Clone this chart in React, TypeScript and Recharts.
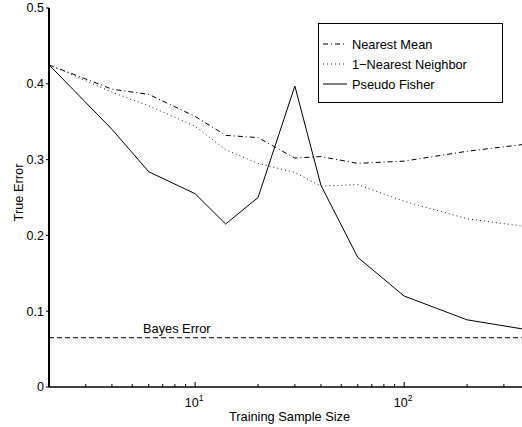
import { LineChart, Line, XAxis, YAxis, ReferenceLine, Legend } from "recharts";

const sizes = [2, 4, 6, 10, 14, 20, 30, 40, 60, 100, 200, 400];
const nearestMean = [0.425, 0.393, 0.386, 0.357, 0.332, 0.329, 0.302, 0.304, 0.295, 0.298, 0.311, 0.321];
const nearestNeighbor = [0.425, 0.389, 0.371, 0.344, 0.313, 0.295, 0.283, 0.265, 0.267, 0.245, 0.222, 0.211];
const pseudoFisher = [0.425, 0.34, 0.284, 0.255, 0.215, 0.25, 0.397, 0.266, 0.171, 0.12, 0.0886, 0.075];
const bayesError = 0.065;

const xTicks = [2, 3, 4, 5, 6, 7, 8, 9, 10, 20, 30, 40, 50, 60, 70, 80, 90, 100, 200, 300, 400];
const majorTicks = [10, 100];
const yTicks = [0, 0.1, 0.2, 0.3, 0.4, 0.5];

const data = sizes.map((size, i) => ({
  size,
  nearestMean: nearestMean[i],
  nearestNeighbor: nearestNeighbor[i],
  pseudoFisher: pseudoFisher[i],
}));

const series = [
  { key: "nearestMean", name: "Nearest Mean", dash: "5 3 1 3", color: "#000" },
  { key: "nearestNeighbor", name: "1\u2212Nearest Neighbor", dash: "1 3", color: "#222" },
  { key: "pseudoFisher", name: "Pseudo Fisher", dash: undefined, color: "#000" },
];

const font = "'Liberation Sans', Arial, Helvetica, sans-serif";

const BottomTick = (props: any) => {
  const { x, y, payload } = props;
  const v = payload.value;
  const major = majorTicks.includes(v);
  return (
    <g>
      <line x1={x} x2={x} y1={y} y2={y - (major ? 5 : 3)} stroke="#000" strokeWidth={1} />
      {major && (
        <text x={x - 1} y={y + 20} textAnchor="middle" fontSize={12.5} fontFamily={font} fill="#000">
          10
          <tspan dy={-6} fontSize={8.5}>
            {Math.round(Math.log10(v))}
          </tspan>
        </text>
      )}
    </g>
  );
};

const TopTick = (props: any) => {
  const { x, y, payload } = props;
  const major = majorTicks.includes(payload.value);
  return <line x1={x} x2={x} y1={y} y2={y + (major ? 5 : 3)} stroke="#000" strokeWidth={1} />;
};

const XTitle = ({ viewBox }: any) => (
  <text
    x={viewBox.x + viewBox.width / 2}
    y={viewBox.y + 34}
    textAnchor="middle"
    fontSize={12.8}
    fontFamily={font}
    fill="#000"
  >
    Training Sample Size
  </text>
);

const YTitle = ({ viewBox }: any) => {
  const cx = viewBox.x + 18;
  const cy = viewBox.y + viewBox.height / 2 - 5;
  return (
    <text
      x={cx}
      y={cy}
      transform={`rotate(-90, ${cx}, ${cy})`}
      textAnchor="middle"
      dominantBaseline="central"
      fontSize={12.8}
      fontFamily={font}
      fill="#000"
    >
      True Error
    </text>
  );
};

const BayesLabel = ({ viewBox }: any) => (
  <text x={viewBox.x + 94} y={viewBox.y - 5} fontSize={12.8} fontFamily={font} fill="#000">
    Bayes Error
  </text>
);

const LegendBox = ({ payload }: any) => {
  const items = [...(payload || [])].sort(
    (a: any, b: any) =>
      series.findIndex((s) => s.name === a.value) - series.findIndex((s) => s.name === b.value)
  );
  return (
    <div
      style={{
        border: "1px solid #000",
        background: "#fff",
        width: 185,
        height: 80,
        boxSizing: "border-box",
        paddingTop: 10,
        fontFamily: font,
        fontSize: 12.8,
        color: "#000",
      }}
    >
      {items.map((entry: any) => {
        const s = series.find((d) => d.name === entry.value);
        return (
          <div key={entry.value} style={{ display: "flex", alignItems: "center", height: 20 }}>
            <svg width={33} height={20} style={{ display: "block" }}>
              <line x1={4} x2={28} y1={10} y2={10} stroke={s?.color} strokeDasharray={s?.dash} />
            </svg>
            <span>{entry.value}</span>
          </div>
        );
      })}
    </div>
  );
};

export default function App() {
  return (
    <div
      style={{
        position: "fixed",
        left: 0,
        top: 0,
        width: 522,
        height: 427,
        overflow: "hidden",
        background: "#fff",
      }}
    >
      <LineChart width={531} height={427} data={data} margin={{ top: 8, right: 1, left: 0, bottom: 0 }}>
        <XAxis
          dataKey="size"
          type="number"
          scale="log"
          domain={[2, 400]}
          ticks={xTicks}
          allowDataOverflow
          interval={0}
          height={40}
          tickLine={false}
          tickSize={0}
          tickMargin={0}
          tick={<BottomTick />}
          axisLine={{ stroke: "#000", strokeWidth: 1.5 }}
          label={<XTitle />}
        />
        <XAxis
          xAxisId="top"
          orientation="top"
          dataKey="size"
          type="number"
          scale="log"
          domain={[2, 400]}
          ticks={xTicks}
          allowDataOverflow
          interval={0}
          height={0}
          tickLine={false}
          tickSize={0}
          tickMargin={0}
          tick={<TopTick />}
          axisLine={{ stroke: "#000", strokeWidth: 1 }}
        />
        <YAxis
          type="number"
          domain={[0, 0.5]}
          ticks={yTicks}
          interval={0}
          width={49}
          tickSize={3}
          tickMargin={2}
          tickFormatter={(v: number) => String(v)}
          tick={{ fontSize: 12.5, fill: "#000", fontFamily: font }}
          tickLine={{ stroke: "#000" }}
          axisLine={{ stroke: "#000", strokeWidth: 2 }}
          label={<YTitle />}
        />
        <ReferenceLine
          y={bayesError}
          stroke="#000"
          strokeDasharray="5 3"
          label={<BayesLabel />}
        />
        <Legend
          layout="vertical"
          align="center"
          verticalAlign="middle"
          content={<LegendBox />}
          wrapperStyle={{ left: 318, top: 23, width: 185, height: 80 }}
        />
        {series.map((s) => (
          <Line
            key={s.key}
            type="linear"
            dataKey={s.key}
            name={s.name}
            stroke={s.color}
            strokeWidth={1}
            strokeDasharray={s.dash}
            dot={false}
            activeDot={false}
            isAnimationActive={false}
          />
        ))}
      </LineChart>
    </div>
  );
}
